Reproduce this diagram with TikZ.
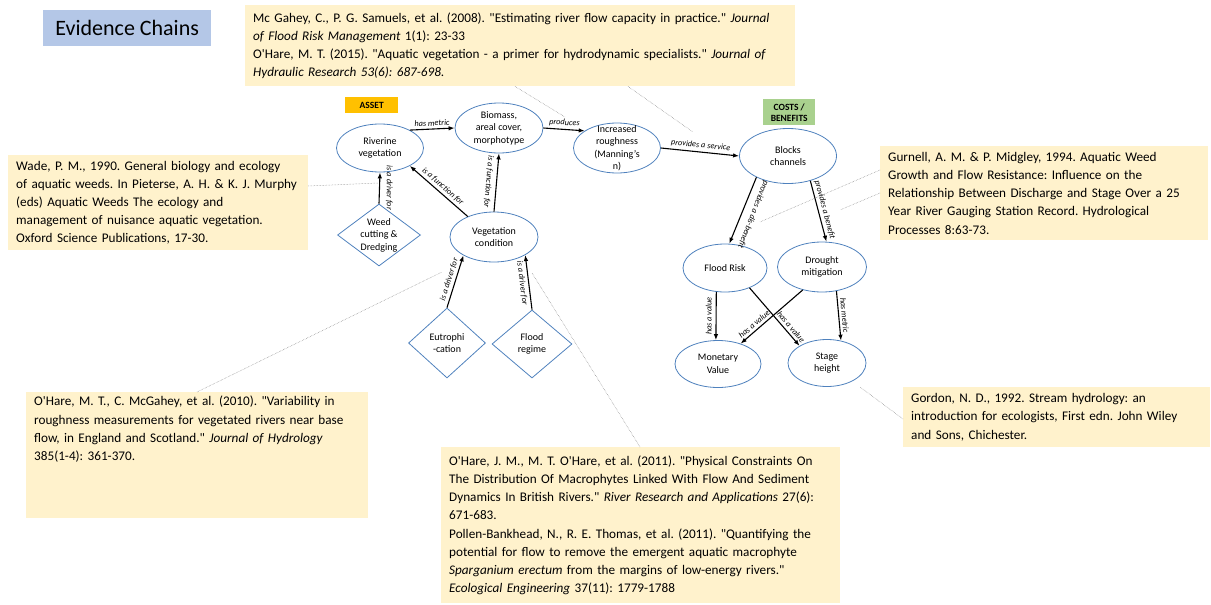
\documentclass[tikz,border=0pt]{standalone}
\usepackage{fontspec}
\setmainfont{Carlito}[Ligatures=TeXOff]
\usepackage{tikz}
\usetikzlibrary{positioning, arrows.meta, shapes}
\usepackage{xcolor}
\definecolor{notefill}{RGB}{255,242,204}
\definecolor{titlefill}{RGB}{180,199,231}
\definecolor{assetfill}{RGB}{255,192,0}
\definecolor{costfill}{RGB}{169,209,142}
\definecolor{shapeblue}{RGB}{79,129,189}
\frenchspacing

\begin{document}
\begin{tikzpicture}[x=1pt, y=-1pt]
  \tikzstyle{note} = [rectangle, fill=notefill, anchor=north west, inner xsep=8pt, inner ysep=4pt,
    align=left, font=\fontsize{13.2}{18.2}\selectfont]
  \tikzstyle{tag} = [rectangle, anchor=north west, inner sep=0pt, align=center,
    font=\fontsize{9.5}{11}\selectfont\bfseries]
  \tikzstyle{concept} = [ellipse, draw=shapeblue, line width=0.8pt, inner sep=0pt]
  \tikzstyle{driver} = [diamond, draw=shapeblue, line width=0.8pt, inner sep=0pt]
  \tikzstyle{ctext} = [align=center, inner sep=0pt, font=\fontsize{10}{12.5}\selectfont]
  \tikzstyle{link} = [line width=1.1pt, -{Latex[length=6pt, width=4.5pt]}]
  \tikzstyle{elabel} = [inner sep=1.5pt, outer sep=1.5pt, font=\fontsize{8.3}{10}\selectfont\itshape]
  \tikzstyle{leader} = [gray, line width=0.5pt, densely dotted]

  \useasboundingbox (0,0) rectangle (1211,605);

  % Titulo y etiquetas
  \node[anchor=north west, fill=titlefill, minimum width=168pt, minimum height=36pt,
    font=\fontsize{22}{26}\selectfont] (title) at (43,10) {Evidence Chains};
  \node[tag, fill=assetfill, minimum width=53pt, minimum height=16pt] (asset) at (345,97) {ASSET};
  \node[tag, fill=costfill, minimum width=52pt, minimum height=26pt] (costs) at (763,99) {COSTS /\\BENEFITS};

  % Referencias
  \node[note, text width=534pt, minimum height=81pt] (topref) at (245,5) {Mc Gahey, C., P. G. Samuels, et al. (2008). "Estimating river flow capacity in practice." \textit{Journal}\\
    \textit{of Flood Risk Management} 1(1): 23-33\\
    O'Hare, M. T. (2015). "Aquatic vegetation - a primer for hydrodynamic specialists." \textit{Journal of}\\
    \textit{Hydraulic Research 53(6): 687-698.}};
  \node[note, text width=284pt, minimum height=95pt] (wade) at (8,155) {Wade, P. M., 1990. General biology and ecology\\
    of aquatic weeds. In Pieterse, A. H. \& K. J. Murphy\\
    (eds) Aquatic Weeds The ecology and\\
    management of nuisance aquatic vegetation.\\
    Oxford Science Publications, 17-30.};
  \node[note, text width=312pt, minimum height=94pt] (gurnell) at (880,146) {Gurnell, A. M. \& P. Midgley, 1994. Aquatic Weed\\
    Growth and Flow Resistance: Influence on the\\
    Relationship Between Discharge and Stage Over a 25\\
    Year River Gauging Station Record. Hydrological\\
    Processes 8:63-73.};
  \node[note, text width=291pt, minimum height=60pt] (gordon) at (903,387) {Gordon, N. D., 1992. Stream hydrology: an\\
    introduction for ecologists, First edn. John Wiley\\
    and Sons, Chichester.};
  \node[note, text width=326pt] (ohare10) at (26,392) {O'Hare, M. T., C. McGahey, et al. (2010). "Variability in\\
    roughness measurements for vegetated rivers near base\\
    flow, in England and Scotland." \textit{Journal of Hydrology}\\
    385(1-4): 361-370.\rule[-54pt]{0pt}{0pt}};
  \node[note, text width=383pt, minimum height=156pt] (ohare11) at (441,447) {O'Hare, J. M., M. T. O'Hare, et al. (2011). "Physical Constraints On\\
    The Distribution Of Macrophytes Linked With Flow And Sediment\\
    Dynamics In British Rivers." \textit{River Research and Applications} 27(6):\\
    671-683.\\
    Pollen-Bankhead, N., R. E. Thomas, et al. (2011). "Quantifying the\\
    potential for flow to remove the emergent aquatic macrophyte\\
    \textit{Sparganium erectum} from the margins of low-energy rivers."\\
    \textit{Ecological Engineering} 37(11): 1779-1788};

  % Activo
  \node[concept, minimum width=87pt, minimum height=48pt,
    label={[ctext]center:{Riverine\\vegetation}}] (riverine) at (380,148) {};
  \node[concept, minimum width=88pt, minimum height=50pt,
    label={[ctext]center:{Biomass,\\areal cover,\\morphotype}}] (biomass) at (499,128) {};
  \node[concept, minimum width=87pt, minimum height=50pt,
    label={[ctext]center:{Increased\\roughness\\(Manning’s\\n)}}] (increased) at (617,148) {};
  \node[concept, minimum width=88pt, minimum height=50pt,
    label={[ctext]center:{Vegetation\\condition}}] (veg) at (494,237) {};
  \node[driver, minimum width=83pt, minimum height=62pt,
    label={[ctext]center:{Weed\\cutting \&\\Dredging}}] (weed) at (379,235) {};
  \node[driver, minimum width=77pt, minimum height=70pt,
    label={[ctext]center:{Eutrophi\\-cation}}] (eutro) at (447,343) {};
  \node[driver, minimum width=80pt, minimum height=68pt,
    label={[ctext]center:{Flood\\regime}}] (floodreg) at (532,344) {};

  % Costes y beneficios
  \node[concept, minimum width=97pt, minimum height=55pt,
    label={[ctext]center:{Blocks\\channels}}] (blocks) at (788,156) {};
  \node[concept, minimum width=84pt, minimum height=48pt,
    label={[ctext]center:{Flood Risk}}] (floodrisk) at (725,268) {};
  \node[concept, minimum width=89pt, minimum height=50pt,
    label={[ctext]center:{Drought\\mitigation}}] (drought) at (822,267) {};
  \node[concept, minimum width=86pt, minimum height=47pt,
    label={[ctext]center:{Monetary\\Value}}] (monetary) at (718,364) {};
  \node[concept, minimum width=78pt, minimum height=47pt,
    label={[ctext]center:{Stage\\height}}] (stage) at (827,363) {};

  % Relaciones
  \draw[link] (riverine.31) -- node[elabel, sloped, above] {has metric} (biomass.west);
  \draw[link] (biomass.east) -- node[elabel, sloped, above] {produces} (increased.152);
  \draw[link] (increased.east) -- node[elabel, sloped, above] {provides a service} (blocks.west);
  \draw[link] (weed.north) -- node[elabel, anchor=south, rotate=-90, outer sep=5pt] {is a driver for} (riverine.south);
  \draw[link] (veg.142) -- node[elabel, sloped, above] {is a function for} (riverine.-31);
  \draw[link] (veg.north) -- node[elabel, anchor=north, rotate=-95, outer sep=3pt] {is a function for} (biomass.south);
  \draw[link] (eutro.north) -- node[elabel, sloped, above] {is a driver for} (veg.211);
  \draw[link] (floodreg.north) -- node[elabel, sloped, below] {is a driver for} (veg.-30);
  \draw[link] (blocks.214) -- node[elabel, anchor=south, rotate=-111, outer sep=6pt] {provides a dis-benefit} (floodrisk.80);
  \draw[link] (blocks.-48) -- node[elabel, sloped, above] {provides a benefit} (drought.80);
  \draw[link] (floodrisk.-110) -- node[elabel, anchor=south, rotate=90, outer sep=3pt] {has a value} (monetary.95);
  \draw[link] (floodrisk.-39) -- node[elabel, sloped, above, pos=0.74] {has a value} (stage.148);
  \draw[link] (drought.-130) -- node[elabel, sloped, above, pos=0.72] {has a value} (monetary.42);
  \draw[link] (drought.-59) -- node[elabel, sloped, above] {has metric} (stage.58);

  % Lineas de las referencias
  \coordinate (lead1) at (565,117);
  \coordinate (lead2) at (693,132);
  \coordinate (lead3) at (378,183);
  \coordinate (lead4) at (760,222);
  \coordinate (lead5) at (840,210);
  \coordinate (lead6) at (860,387);
  \coordinate (lead7) at (442,272);
  \coordinate (lead8) at (532,273);
  \draw[leader] ([xshift=270pt]topref.south west) -- (lead1);
  \draw[leader] ([xshift=383pt]topref.south west) -- (lead2);
  \draw[leader] ([yshift=-31pt]wade.north east) -- (lead3);
  \draw[leader] ([yshift=-24pt]gurnell.north west) -- (lead4);
  \draw[leader] ([yshift=-47pt]gurnell.north west) -- (lead5);
  \draw[leader] ([yshift=-32pt]gordon.north west) -- (lead6);
  \draw[leader] ([xshift=171pt]ohare10.north west) -- (lead7);
  \draw[leader] ([xshift=199pt]ohare11.north west) -- (lead8);
\end{tikzpicture}
\end{document}
